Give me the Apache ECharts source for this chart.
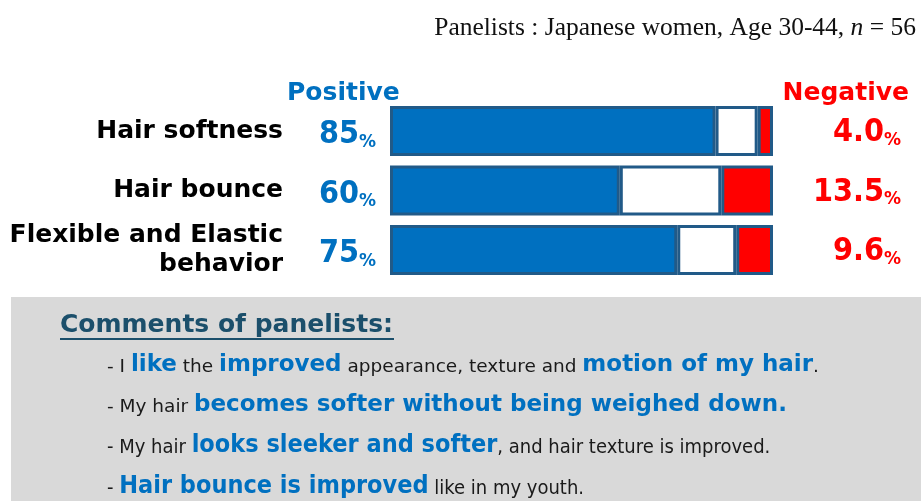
<!DOCTYPE html>
<html>
<head>
<meta charset="utf-8">
<script src="https://cdn.jsdelivr.net/npm/echarts@6/dist/echarts.min.js"></script>
<style>
  html, body { margin: 0; padding: 0; background: #fff; }
  #chart { width: 921px; height: 501px; }
</style>
</head>
<body>
<div id="chart"></div>
<script>
// Panel evaluation: share of positive / neutral / negative answers per attribute
const categories = ['Hair softness', 'Hair bounce', 'Flexible and Elastic\nbehavior'];
const positive = [85, 60, 75];
const negative = [4.0, 13.5, 9.6];
const neutral = positive.map((p, i) => +(100 - p - negative[i]).toFixed(1));
const negativeLabels = ['4.0', '13.5', '9.6'];

// Panelist comments: [text, emphasised?]
const comments = [
  [['- I ', 0], ['like', 1], [' the ', 0], ['improved', 1], [' appearance, texture and ', 0], ['motion of my hair', 1], ['.', 0]],
  [['- My hair ', 0], ['becomes softer without being weighed down.', 1]],
  [['- My hair ', 0], ['looks sleeker and softer', 1], [', and hair texture is improved.', 0]],
  [['- ', 0], ['Hair bounce is improved', 1], [' like in my youth.', 0]]
];

const BLUE = '#0070c0';
const RED = '#ff0000';
const EDGE = '#215a88';
const SANS = "'DejaVu Sans', Verdana, sans-serif";
const NARROW = "'DejaVu Sans Condensed', 'Liberation Sans Narrow', 'DejaVu Sans', sans-serif";

const chart = echarts.init(document.getElementById('chart'), null, { renderer: 'canvas' });

function commentText(line, idx) {
  const narrow = idx >= 2;
  const font = narrow ? NARROW : SANS;
  return {
    type: 'text',
    left: 107,
    top: [354, 394, 433, 474][idx],
    style: {
      text: line.map(([t, em]) => '{' + (em ? 'e' : 'n') + '|' + t + '}').join(''),
      rich: {
        n: { fontFamily: font, fontSize: narrow ? 20 : 18.5, fill: '#1a1a1a', verticalAlign: 'bottom', lineHeight: 30 },
        e: { fontFamily: font, fontSize: narrow ? 25 : 23, fontWeight: 'bold', fill: BLUE, verticalAlign: 'bottom', lineHeight: 30 }
      }
    }
  };
}

const numRich = color => ({
  n: { fontFamily: NARROW, fontSize: 32, fontWeight: 'bold', color: color, verticalAlign: 'bottom', lineHeight: 36 },
  p: { fontFamily: SANS, fontSize: 17, fontWeight: 'bold', color: color, verticalAlign: 'bottom', lineHeight: 31 }
});

const barBase = {
  type: 'bar',
  stack: 'all',
  barWidth: 50,
  silent: true,
  itemStyle: { borderColor: EDGE, borderWidth: 3 }
};

chart.setOption({
  animation: false,
  backgroundColor: '#fff',
  grid: { left: 390, top: 101.25, width: 383, height: 178.5 },
  xAxis: { type: 'value', min: 0, max: 100, show: false },
  yAxis: [
    {
      type: 'category',
      data: categories,
      inverse: true,
      axisLine: { show: false },
      axisTick: { show: false },
      axisLabel: {
        margin: 107,
        fontFamily: SANS,
        fontSize: 25,
        fontWeight: 'bold',
        color: '#000',
        lineHeight: 29,
        align: 'right'
      }
    },
    {
      type: 'category',
      data: categories,
      inverse: true,
      position: 'right',
      axisLine: { show: false },
      axisTick: { show: false },
      axisLabel: {
        margin: 128,
        align: 'right',
        formatter: (v, i) => '{n|' + negativeLabels[i] + '}{p|%}',
        rich: numRich(RED)
      }
    }
  ],
  series: [
    Object.assign({}, barBase, {
      name: 'Positive',
      data: positive,
      itemStyle: Object.assign({}, barBase.itemStyle, { color: BLUE }),
      label: {
        show: true,
        position: 'left',
        distance: 14,
        offset: [0, 2],
        formatter: p => '{n|' + p.value + '}{p|%}',
        rich: numRich(BLUE)
      }
    }),
    Object.assign({}, barBase, {
      name: 'Neutral',
      data: neutral,
      itemStyle: Object.assign({}, barBase.itemStyle, { color: '#fff' })
    }),
    Object.assign({}, barBase, {
      name: 'Negative',
      data: negative,
      itemStyle: Object.assign({}, barBase.itemStyle, { color: RED })
    })
  ],
  graphic: [
    {
      type: 'text',
      right: 5,
      top: 15,
      style: {
        text: '{a|Panelists : Japanese women, Age 30-44, }{i|n}{a| = 56}',
        rich: {
          a: { fontFamily: "'Liberation Serif', 'DejaVu Serif', serif", fontSize: 25.5, fill: '#111' },
          i: { fontFamily: "'Liberation Serif', 'DejaVu Serif', serif", fontSize: 25.5, fontStyle: 'italic', fill: '#111' }
        }
      }
    },
    {
      type: 'text',
      left: 287,
      top: 81,
      style: { text: 'Positive', fontFamily: SANS, fontSize: 25, fontWeight: 'bold', fill: BLUE }
    },
    {
      type: 'text',
      right: 12,
      top: 81,
      style: { text: 'Negative', fontFamily: SANS, fontSize: 25, fontWeight: 'bold', fill: RED }
    },
    {
      type: 'rect',
      shape: { x: 11, y: 297, width: 910, height: 204 },
      style: { fill: '#d9d9d9' },
      z: -10
    },
    {
      type: 'text',
      left: 60,
      top: 313,
      style: { text: 'Comments of panelists:', fontFamily: SANS, fontSize: 25, fontWeight: 'bold', fill: '#1b4f6b' }
    },
    {
      type: 'line',
      shape: { x1: 60, y1: 339, x2: 394, y2: 339 },
      style: { stroke: '#1b4f6b', lineWidth: 2 }
    }
  ].concat(comments.map(commentText))
});
</script>
</body>
</html>
